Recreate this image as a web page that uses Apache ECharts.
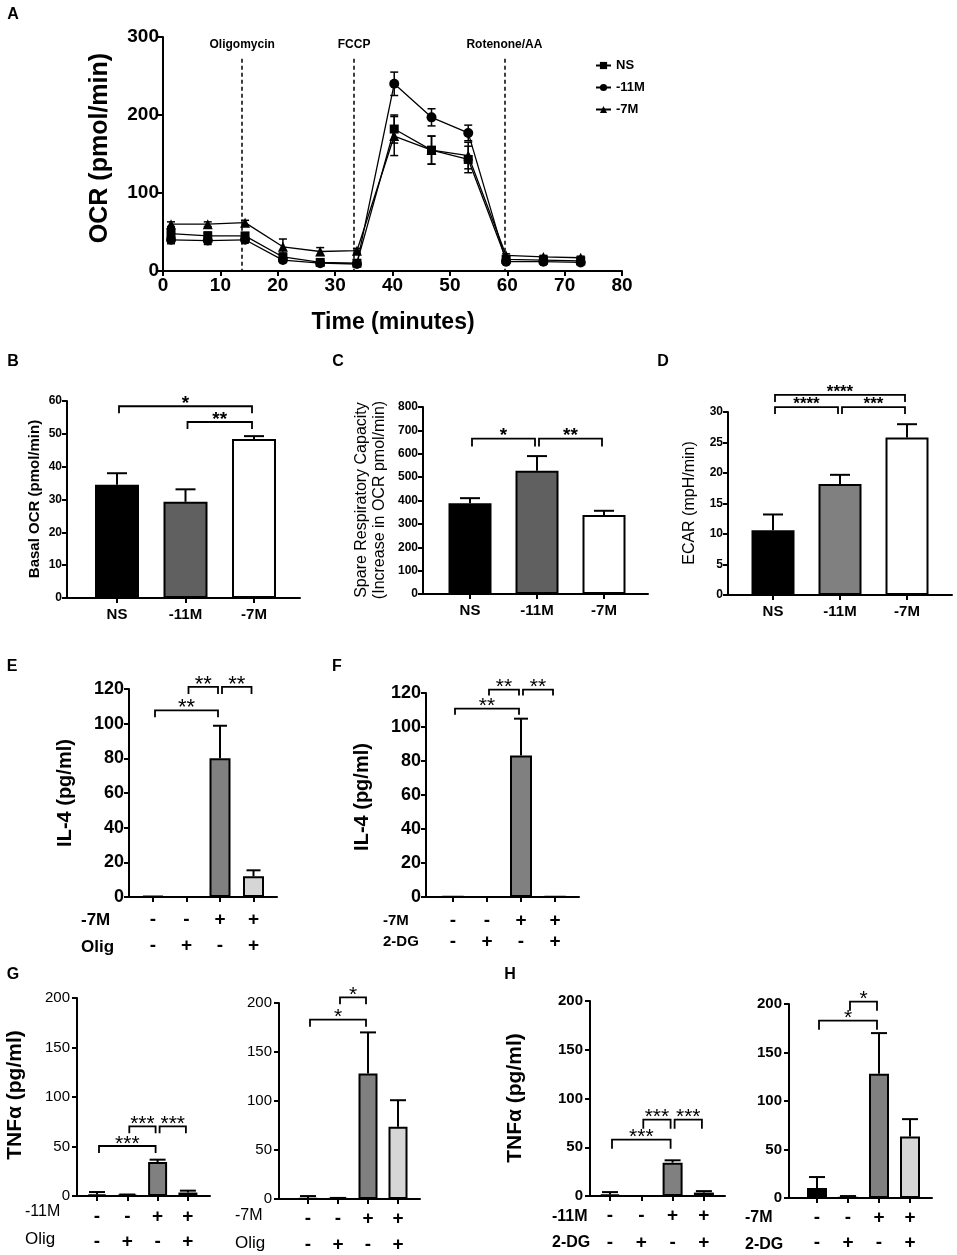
<!DOCTYPE html>
<html>
<head>
<meta charset="utf-8">
<title>OCR, ECAR and cytokine panels</title>
<script src="https://cdn.jsdelivr.net/npm/echarts@6.0.0/dist/echarts.min.js"></script>
<style>
  html, body { margin: 0; padding: 0; background: #fff; }
  #main { width: 957px; height: 1255px; }
</style>
</head>
<body>
<div id="main"></div>
<script>
// ---- A: Seahorse OCR trace ----
var timeMin   = [1.4, 7.8, 14.3, 20.9, 27.4, 33.8, 40.3, 46.8, 53.2, 59.8, 66.3, 72.8];
var ocrNS     = [48, 45, 45, 18, 11, 10, 182, 155, 143, 15, 14, 13];
var ocrNSErr  = [5, 5, 4, 5, 3, 2, 18, 18, 17, 3, 2, 2];
var ocr11M    = [40, 39, 40, 14, 10, 9, 240, 197, 177, 12, 12, 11];
var ocr11MErr = [5, 5, 4, 3, 2, 2, 15, 11, 10, 2, 2, 2];
var ocr7M     = [60, 60, 62, 31, 25, 26, 173, 155, 148, 20, 18, 17];
var ocr7MErr  = [3, 3, 3, 10, 5, 3, 25, 18, 17, 2, 2, 2];
var injectTime = [13.8, 33.3, 59.5];
var injectName = ['Oligomycin', 'FCCP', 'Rotenone/AA'];

// ---- B, C, D ----
var groups = ['NS', '-11M', '-7M'];
var basalOCR = [34.5, 29.3, 48.4];
var basalOCRErr = [3.5, 3.8, 0.9];
var basalSig = [[0, 2, 58.4, '*'], [1, 2, 53.6, '**']];
var spareCap = [388, 527, 338];
var spareCapErr = [22, 63, 18];
var spareSig = [[0, 1, 665, '*'], [1, 2, 665, '**']];
var ecar = [10.6, 18.2, 25.8];
var ecarErr = [2.6, 1.5, 2.2];
var ecarSig = [[0, 1, 30.8, '****'], [1, 2, 30.8, '***'], [0, 2, 32.8, '****']];

// ---- E to H: treatment rows ----
var stimRow = ['-', '-', '+', '+'];
var inhibRow = ['-', '+', '-', '+'];

var il4Olig = [0.5, 0, 80, 11.9];
var il4OligErr = [0, 0, 18.8, 3.5];
var il4OligSig = [[0, 2, 107.7, '**'], [1, 2, 121.2, '**'], [2, 3, 121.2, '**']];
var il4DG = [0.3, 0, 83.3, 0.4];
var il4DGErr = [0, 0, 21.6, 0];
var il4DGSig = [[0, 2, 110.8, '**'], [1, 2, 122, '**'], [2, 3, 122, '**']];

var tnfOlig11M = [1.5, 0.8, 34.3, 3.5];
var tnfOlig11MErr = [2.5, 0.7, 2.4, 1.9];
var tnfOlig11MSig = [[0, 2, 50.5, '***'], [1, 2, 70.4, '***'], [2, 3, 70.4, '***']];
var tnfOlig7M = [0.5, 0.3, 128, 73.8];
var tnfOlig7MErr = [2.5, 0.8, 42, 27];
var tnfOlig7MSig = [[0, 2, 183, '*'], [1, 2, 205.8, '*']];

var tnfDG11M = [1.5, 0, 34.2, 3.5];
var tnfDG11MErr = [2.5, 0, 2.4, 1.5];
var tnfDG11MSig = [[0, 2, 57.8, '***'], [1, 2, 78.3, '***'], [2, 3, 78.3, '***']];
var tnfDG7M = [10.3, 0.5, 128, 63.5];
var tnfDG7MErr = [11.3, 1.5, 42, 17.8];
var tnfDG7MSig = [[0, 2, 182.8, '*'], [1, 2, 202.4, '*']];

var dom = document.getElementById('main');
var myChart = echarts.init(dom);

var FONT = "'Liberation Sans', Arial, sans-serif";
var grids = [], xAxes = [], yAxes = [], series = [], graphics = [];

function text(str, x, y, size, weight, rotate, align) {
    graphics.push({
        type: 'text', x: x, y: y, rotation: rotate ? Math.PI / 2 : 0, silent: true,
        style: {
            text: str, fill: '#000', align: align || 'center', verticalAlign: 'middle',
            font: (weight || 'normal') + ' ' + size + 'px ' + FONT
        }
    });
}

function errorBars(gi, xs, ys, errs, capHalf, both, width) {
    series.push({
        type: 'custom', xAxisIndex: gi, yAxisIndex: gi, clip: false, silent: true, z: 1,
        data: xs.map(function (x, i) { return [x, ys[i], errs[i]]; }),
        renderItem: function (params, api) {
            var e = api.value(2);
            if (!(e > 0)) return;
            var top = api.coord([api.value(0), api.value(1) + e]);
            var bot = api.coord([api.value(0), both ? api.value(1) - e : api.value(1)]);
            var st = {stroke: '#000', lineWidth: width};
            var kids = [
                {type: 'line', shape: {x1: top[0], y1: top[1], x2: bot[0], y2: bot[1]}, style: st},
                {type: 'line', shape: {x1: top[0] - capHalf, y1: top[1], x2: top[0] + capHalf, y2: top[1]}, style: st}
            ];
            if (both) {
                kids.push({type: 'line', shape: {x1: bot[0] - capHalf, y1: bot[1], x2: bot[0] + capHalf, y2: bot[1]}, style: st});
            }
            return {type: 'group', children: kids};
        }
    });
}

// star: [weight, size, gap above the bracket line]
function sigBrackets(gi, sig, drop, star) {
    series.push({
        type: 'custom', xAxisIndex: gi, yAxisIndex: gi, clip: false, silent: true, z: 3,
        data: sig.map(function (s) { return [s[0], s[1], s[2]]; }),
        renderItem: function (params, api) {
            var a = api.coord([api.value(0), api.value(2)]);
            var b = api.coord([api.value(1), api.value(2)]);
            var x1 = a[0] + 2, x2 = b[0] - 2, y = a[1];
            return {type: 'group', children: [
                {type: 'polyline', shape: {points: [[x1, y + drop], [x1, y], [x2, y], [x2, y + drop]]},
                    style: {stroke: '#000', lineWidth: 1.8, fill: null}},
                {type: 'text', x: (x1 + x2) / 2, y: y - star[2] + 0.23 * star[1],
                    style: {text: sig[params.dataIndex][3], align: 'center', verticalAlign: 'middle',
                        font: star[0] + ' ' + star[1] + 'px ' + FONT, fill: '#000'}}
            ]};
        }
    });
}

function barPanel(p) {
    var gi = grids.length;
    var L = p.box[0], W = p.box[2];
    var xMin = -(p.first - L) / p.step;
    var xMax = xMin + W / p.step;
    var idx = p.values.map(function (v, i) { return i; });
    grids.push({left: L, top: p.box[1], width: W, height: p.box[3], outerBoundsMode: 'none'});
    xAxes.push({
        type: 'value', gridIndex: gi, min: xMin, max: xMax,
        axisLine: {show: true, onZero: false, lineStyle: {color: '#000', width: 2}},
        axisTick: {show: true, length: 5, customValues: idx, lineStyle: {color: '#000', width: 2}},
        axisLabel: Object.assign({
            show: true, customValues: idx, color: '#000', fontFamily: FONT,
            formatter: function (v) { return p.catLabel(Math.round(v)); }
        }, p.catStyle),
        splitLine: {show: false}
    });
    yAxes.push({
        type: 'value', gridIndex: gi, min: 0, max: p.yMax, interval: p.yStep,
        axisLine: {show: true, onZero: false, lineStyle: {color: '#000', width: 2}},
        axisTick: {show: true, length: 5, lineStyle: {color: '#000', width: 2}},
        axisLabel: Object.assign({color: '#000', fontFamily: FONT, margin: 5}, p.tickStyle),
        splitLine: {show: false}
    });
    series.push({
        type: 'bar', xAxisIndex: gi, yAxisIndex: gi, barWidth: p.barWidth, silent: true, z: 2,
        data: p.values.map(function (v, i) {
            return {value: [i, v], itemStyle: {color: p.colors[i], borderColor: '#000', borderWidth: 2}};
        })
    });
    errorBars(gi, idx, p.values, p.errs, p.capHalf, false, 2);
    sigBrackets(gi, p.sig, p.drop, p.star);
}

// ---- panel A ----
grids.push({left: 163, top: 37, width: 459, height: 234, outerBoundsMode: 'none'});
xAxes.push({
    type: 'value', gridIndex: 0, min: 0, max: 80, interval: 10,
    axisLine: {show: true, onZero: false, lineStyle: {color: '#000', width: 2}},
    axisTick: {show: true, length: 5, lineStyle: {color: '#000', width: 2}},
    axisLabel: {color: '#000', fontFamily: FONT, fontWeight: 'bold', fontSize: 19, margin: 5},
    splitLine: {show: false}
});
yAxes.push({
    type: 'value', gridIndex: 0, min: 0, max: 300, interval: 100,
    axisLine: {show: true, onZero: false, lineStyle: {color: '#000', width: 2}},
    axisTick: {show: true, length: 5, lineStyle: {color: '#000', width: 2}},
    axisLabel: {color: '#000', fontFamily: FONT, fontWeight: 'bold', fontSize: 19, margin: 4},
    splitLine: {show: false}
});

var traces = [
    {name: 'NS', vals: ocrNS, errs: ocrNSErr, symbol: 'rect', size: 9},
    {name: '-11M', vals: ocr11M, errs: ocr11MErr, symbol: 'circle', size: 10},
    {name: '-7M', vals: ocr7M, errs: ocr7MErr, symbol: 'triangle', size: 10}
];
traces.forEach(function (t, k) {
    var s = {
        name: t.name, type: 'line', xAxisIndex: 0, yAxisIndex: 0, silent: true, z: 3,
        symbol: t.symbol, symbolSize: t.size, showAllSymbol: true,
        itemStyle: {color: '#000'}, lineStyle: {color: '#000', width: 1.3},
        data: timeMin.map(function (x, i) { return [x, t.vals[i]]; })
    };
    if (k === 0) {
        s.markLine = {
            silent: true, symbol: ['none', 'none'],
            lineStyle: {type: [4, 3], color: '#000', width: 1.5},
            label: {show: true, position: 'start', formatter: '{b}', color: '#000', fontFamily: FONT,
                fontWeight: 'bold', fontSize: 12, distance: 8},
            data: injectTime.map(function (x, i) {
                return [{name: injectName[i], coord: [x, 272]}, {coord: [x, 0]}];
            })
        };
    }
    series.push(s);
    errorBars(0, timeMin, t.vals, t.errs, 4, true, 1.5);
});

// ---- panels B, C, D ----
var catB = {fontSize: 15, fontWeight: 'bold', margin: 9};
var tickB = {fontSize: 12, fontWeight: 'bold'};
barPanel({box: [67, 401, 233, 197], first: 117, step: 68.5, yMax: 60, yStep: 10,
    values: basalOCR, errs: basalOCRErr, colors: ['#000', '#606060', '#fff'], barWidth: 44, capHalf: 10,
    sig: basalSig, drop: 7, star: ['bold', 19, 7], catLabel: function (i) { return groups[i]; },
    catStyle: catB, tickStyle: tickB});
barPanel({box: [423, 407, 225, 187], first: 470, step: 67, yMax: 800, yStep: 100,
    values: spareCap, errs: spareCapErr, colors: ['#000', '#606060', '#fff'], barWidth: 43, capHalf: 10,
    sig: spareSig, drop: 8, star: ['bold', 19, 7], catLabel: function (i) { return groups[i]; },
    catStyle: catB, tickStyle: tickB});
barPanel({box: [728, 412, 224, 183], first: 773, step: 67, yMax: 30, yStep: 5,
    values: ecar, errs: ecarErr, colors: ['#000', '#808080', '#fff'], barWidth: 43, capHalf: 10,
    sig: ecarSig, drop: 7, star: ['bold', 17, 7], catLabel: function (i) { return groups[i]; },
    catStyle: catB, tickStyle: tickB});

// ---- panels E to H ----
var treatColors = ['#000', '#fff', '#808080', '#d6d6d6'];
function signs(i) { return stimRow[i] + '\n' + inhibRow[i]; }
function signStyle(lh, m) { return {fontSize: 19, fontWeight: 'bold', lineHeight: lh, margin: m}; }

barPanel({box: [129, 689, 148, 208], first: 153, step: 33.5, yMax: 120, yStep: 20,
    values: il4Olig, errs: il4OligErr, colors: treatColors, barWidth: 21, capHalf: 7,
    sig: il4OligSig, drop: 7, star: ['normal', 22, 7], catLabel: signs,
    catStyle: signStyle(26, 10), tickStyle: {fontSize: 18, fontWeight: 'bold'}});
barPanel({box: [426, 693, 153, 204], first: 453, step: 34, yMax: 120, yStep: 20,
    values: il4DG, errs: il4DGErr, colors: treatColors, barWidth: 22, capHalf: 7,
    sig: il4DGSig, drop: 6, star: ['normal', 21, 7], catLabel: signs,
    catStyle: signStyle(21, 13), tickStyle: {fontSize: 18, fontWeight: 'bold'}});
barPanel({box: [77, 998, 133, 198], first: 97, step: 30.3, yMax: 200, yStep: 50,
    values: tnfOlig11M, errs: tnfOlig11MErr, colors: treatColors, barWidth: 19, capHalf: 8,
    sig: tnfOlig11MSig, drop: 7, star: ['normal', 21, 7], catLabel: signs,
    catStyle: signStyle(25, 8), tickStyle: {fontSize: 15, margin: 7}});
barPanel({box: [279, 1003, 141, 196], first: 308, step: 30, yMax: 200, yStep: 50,
    values: tnfOlig7M, errs: tnfOlig7MErr, colors: treatColors, barWidth: 19, capHalf: 8,
    sig: tnfOlig7MSig, drop: 7, star: ['normal', 21, 7], catLabel: signs,
    catStyle: signStyle(26, 7), tickStyle: {fontSize: 15, margin: 7}});
barPanel({box: [590, 1001, 135, 195], first: 610, step: 31.3, yMax: 200, yStep: 50,
    values: tnfDG11M, errs: tnfDG11MErr, colors: treatColors, barWidth: 20, capHalf: 8,
    sig: tnfDG11MSig, drop: 9, star: ['normal', 21, 7], catLabel: signs,
    catStyle: signStyle(27, 6), tickStyle: {fontSize: 15, fontWeight: 'bold', margin: 7}});
barPanel({box: [789, 1004, 143, 194], first: 817, step: 31, yMax: 200, yStep: 50,
    values: tnfDG7M, errs: tnfDG7MErr, colors: treatColors, barWidth: 20, capHalf: 8,
    sig: tnfDG7MSig, drop: 9, star: ['normal', 21, 7], catLabel: signs,
    catStyle: signStyle(25, 7), tickStyle: {fontSize: 15, fontWeight: 'bold', margin: 7}});

// ---- titles, axis names, row labels ----
text('A', 13, 15, 16, 'bold'); text('B', 13, 362, 16, 'bold'); text('C', 338, 362, 16, 'bold');
text('D', 663, 362, 16, 'bold'); text('E', 12, 667, 16, 'bold'); text('F', 337, 667, 16, 'bold');
text('G', 13, 975, 16, 'bold'); text('H', 510, 975, 16, 'bold');

text('OCR (pmol/min)', 100, 148, 25, 'bold', true);
text('Time (minutes)', 393, 323, 23, 'bold');
text('Basal OCR (pmol/min)', 35, 499, 15, 'bold', true);
text('Spare Respiratory Capacity', 362, 500, 16, 'normal', true);
text('(Increase in OCR pmol/min)', 380, 500, 16, 'normal', true);
text('ECAR (mpH/min)', 690, 503, 16, 'normal', true);
text('IL-4 (pg/ml)', 65, 793, 20, 'bold', true);
text('IL-4 (pg/ml)', 362, 797, 20, 'bold', true);
text('TNF\u03b1 (pg/ml)', 15, 1095, 21, 'bold', true);
text('TNF\u03b1 (pg/ml)', 515, 1098, 21, 'bold', true);

text('-7M', 81, 920, 17, 'bold', false, 'left'); text('Olig', 81, 947, 17, 'bold', false, 'left');
text('-7M', 383, 921, 15, 'bold', false, 'left'); text('2-DG', 383, 942, 15, 'bold', false, 'left');
text('-11M', 25, 1212, 16, 'normal', false, 'left'); text('Olig', 25, 1239, 17, 'normal', false, 'left');
text('-7M', 235, 1216, 16, 'normal', false, 'left'); text('Olig', 235, 1243, 17, 'normal', false, 'left');
text('-11M', 552, 1217, 16, 'bold', false, 'left'); text('2-DG', 552, 1243, 16, 'bold', false, 'left');
text('-7M', 745, 1218, 16, 'bold', false, 'left'); text('2-DG', 745, 1245, 16, 'bold', false, 'left');

option = {
    animation: false,
    backgroundColor: '#fff',
    textStyle: {fontFamily: FONT},
    legend: {
        orient: 'vertical', left: 590, top: 54, itemGap: 9, itemWidth: 15, itemHeight: 9,
        textStyle: {color: '#000', fontFamily: FONT, fontWeight: 'bold', fontSize: 13},
        data: ['NS', '-11M', '-7M']
    },
    grid: grids,
    xAxis: xAxes,
    yAxis: yAxes,
    series: series,
    graphic: graphics
};
myChart.setOption(option, true);
</script>
</body>
</html>
